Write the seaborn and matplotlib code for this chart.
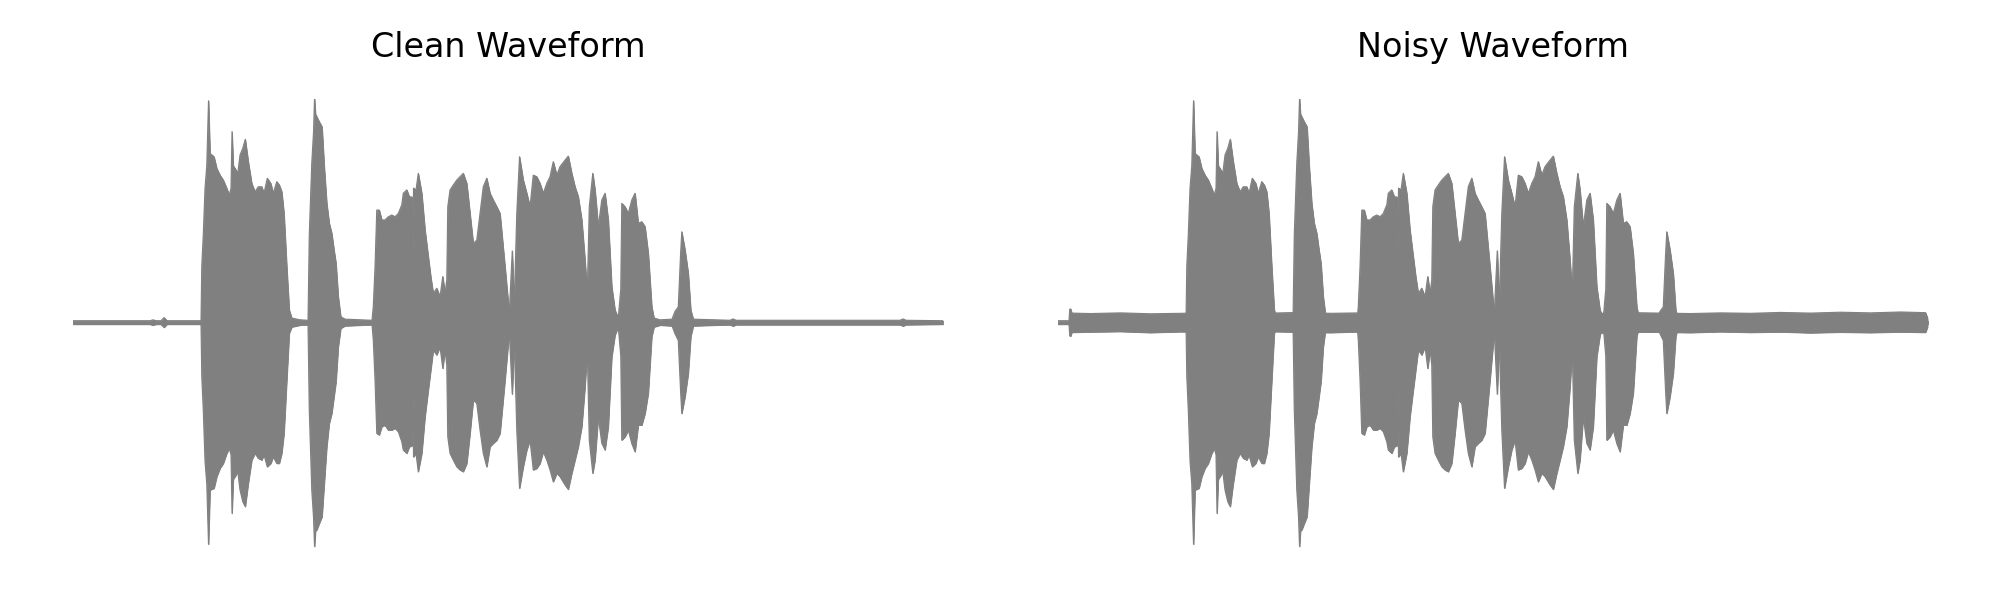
import numpy as np
import pandas as pd
import matplotlib
matplotlib.use("Agg")
import matplotlib.pyplot as plt
import seaborn as sns

# ---------------- data ----------------
# Clean waveform envelope: time (s), upper and lower amplitude
clean_time = [
    0.000, 0.308, 0.320, 0.332, 0.352, 0.364, 0.376, 0.508, 0.512, 0.515,
    0.521, 0.528, 0.535, 0.542, 0.548, 0.564, 0.575, 0.588, 0.601, 0.615,
    0.625, 0.632, 0.636, 0.641, 0.648, 0.659, 0.668, 0.679, 0.689, 0.701,
    0.715, 0.728, 0.741, 0.755, 0.764, 0.777, 0.791, 0.801, 0.815, 0.825,
    0.835, 0.844, 0.855, 0.865, 0.875, 0.908, 0.940, 0.945, 0.955, 0.962,
    0.966, 0.970, 0.975, 0.985, 0.996, 1.005, 1.015, 1.025, 1.035, 1.044,
    1.052, 1.061, 1.071, 1.088, 1.196, 1.201, 1.208, 1.215, 1.225, 1.235,
    1.248, 1.261, 1.275, 1.288, 1.301, 1.315, 1.321, 1.335, 1.345, 1.356,
    1.359, 1.362, 1.372, 1.381, 1.395, 1.408, 1.421, 1.431, 1.441, 1.455,
    1.468, 1.479, 1.488, 1.495, 1.499, 1.508, 1.521, 1.535, 1.548, 1.561,
    1.575, 1.588, 1.601, 1.615, 1.628, 1.641, 1.655, 1.668, 1.681, 1.695,
    1.708, 1.728, 1.745, 1.757, 1.765, 1.775, 1.786, 1.801, 1.815, 1.828,
    1.841, 1.855, 1.868, 1.881, 1.895, 1.908, 1.921, 1.935, 1.948, 1.968,
    1.981, 1.995, 2.008, 2.021, 2.035, 2.048, 2.057, 2.065, 2.079, 2.088,
    2.101, 2.115, 2.128, 2.141, 2.155, 2.168, 2.181, 2.191, 2.195, 2.208,
    2.221, 2.235, 2.248, 2.261, 2.275, 2.288, 2.301, 2.315, 2.324, 2.348,
    2.396, 2.408, 2.421, 2.430, 2.435, 2.448, 2.461, 2.471, 2.481, 2.628,
    2.640, 2.652, 3.308, 3.320, 3.332, 3.480,
]
clean_upper = [
    0.008, 0.008, 0.012, 0.008, 0.008, 0.022, 0.008, 0.008, 0.010, 0.250,
    0.390, 0.600, 0.700, 0.990, 0.755, 0.740, 0.688, 0.658, 0.636, 0.599,
    0.569, 0.600, 0.852, 0.700, 0.688, 0.666, 0.748, 0.778, 0.818, 0.718,
    0.621, 0.584, 0.606, 0.606, 0.577, 0.644, 0.621, 0.577, 0.629, 0.614,
    0.584, 0.487, 0.249, 0.056, 0.020, 0.012, 0.010, 0.391, 0.711, 0.850,
    1.000, 0.930, 0.919, 0.896, 0.874, 0.696, 0.532, 0.443, 0.398, 0.324,
    0.264, 0.115, 0.026, 0.015, 0.010, 0.071, 0.249, 0.502, 0.502, 0.458,
    0.458, 0.472, 0.480, 0.472, 0.487, 0.525, 0.577, 0.592, 0.562, 0.560,
    0.300, 0.600, 0.592, 0.666, 0.577, 0.413, 0.294, 0.205, 0.130, 0.153,
    0.115, 0.205, 0.130, 0.190, 0.517, 0.592, 0.614, 0.636, 0.651, 0.666,
    0.621, 0.487, 0.353, 0.368, 0.487, 0.606, 0.644, 0.577, 0.547, 0.517,
    0.487, 0.249, 0.041, 0.320, 0.080, 0.487, 0.740, 0.636, 0.577, 0.517,
    0.658, 0.651, 0.621, 0.577, 0.621, 0.651, 0.718, 0.658, 0.696, 0.725,
    0.743, 0.666, 0.606, 0.562, 0.458, 0.279, 0.130, 0.517, 0.666, 0.592,
    0.428, 0.547, 0.577, 0.458, 0.160, 0.056, 0.020, 0.150, 0.532, 0.517,
    0.487, 0.547, 0.577, 0.443, 0.450, 0.428, 0.309, 0.071, 0.020, 0.012,
    0.015, 0.050, 0.070, 0.300, 0.405, 0.324, 0.219, 0.056, 0.015, 0.010,
    0.016, 0.010, 0.010, 0.016, 0.010, 0.008,
]
clean_lower = [
    -0.008, -0.008, -0.012, -0.008, -0.008, -0.022, -0.008, -0.008, -0.010, -0.240,
    -0.390, -0.620, -0.720, -0.990, -0.748, -0.740, -0.688, -0.651, -0.629, -0.584,
    -0.562, -0.590, -0.852, -0.700, -0.688, -0.666, -0.748, -0.800, -0.822, -0.718,
    -0.614, -0.584, -0.606, -0.614, -0.591, -0.644, -0.629, -0.599, -0.629, -0.629,
    -0.584, -0.495, -0.257, -0.048, -0.020, -0.012, -0.010, -0.391, -0.748, -0.870,
    -1.000, -0.930, -0.926, -0.897, -0.867, -0.718, -0.555, -0.450, -0.406, -0.331,
    -0.264, -0.108, -0.026, -0.015, -0.010, -0.078, -0.257, -0.495, -0.502, -0.465,
    -0.458, -0.480, -0.480, -0.472, -0.487, -0.532, -0.569, -0.584, -0.555, -0.550,
    -0.300, -0.600, -0.584, -0.666, -0.584, -0.420, -0.301, -0.212, -0.123, -0.145,
    -0.108, -0.205, -0.123, -0.190, -0.510, -0.584, -0.614, -0.644, -0.658, -0.666,
    -0.629, -0.495, -0.346, -0.361, -0.480, -0.584, -0.644, -0.554, -0.539, -0.525,
    -0.495, -0.257, -0.041, -0.320, -0.080, -0.480, -0.740, -0.644, -0.569, -0.525,
    -0.658, -0.651, -0.629, -0.577, -0.614, -0.658, -0.711, -0.673, -0.688, -0.725,
    -0.745, -0.673, -0.614, -0.554, -0.465, -0.287, -0.123, -0.525, -0.673, -0.614,
    -0.420, -0.539, -0.569, -0.465, -0.153, -0.056, -0.020, -0.150, -0.525, -0.510,
    -0.480, -0.540, -0.577, -0.458, -0.458, -0.406, -0.316, -0.063, -0.020, -0.012,
    -0.015, -0.050, -0.080, -0.300, -0.406, -0.331, -0.227, -0.063, -0.015, -0.010,
    -0.016, -0.010, -0.010, -0.016, -0.010, -0.008,
]

# Added background noise band in the noisy recording: time (s), upper, lower
noise_time = [0.044, 0.047, 0.051, 0.055, 0.13, 0.25, 0.37, 0.49, 0.61, 0.73,
              0.85, 0.97, 1.09, 1.21, 1.33, 1.45, 1.57, 1.69, 1.81, 1.93,
              2.05, 2.17, 2.29, 2.41, 2.53, 2.65, 2.77, 2.89, 3.01, 3.13,
              3.25, 3.37, 3.47, 3.478]
noise_upper = [0.010, 0.060, 0.060, 0.042, 0.040, 0.043, 0.039, 0.041, 0.044, 0.040,
               0.042, 0.045, 0.041, 0.043, 0.040, 0.042, 0.044, 0.041, 0.043, 0.040,
               0.042, 0.041, 0.044, 0.042, 0.040, 0.043, 0.041, 0.045, 0.042, 0.046,
               0.043, 0.047, 0.044, 0.020]
noise_lower = [-0.010, -0.060, -0.060, -0.044, -0.042, -0.040, -0.045, -0.041, -0.043, -0.046,
               -0.040, -0.043, -0.045, -0.041, -0.044, -0.042, -0.040, -0.045, -0.042, -0.044,
               -0.041, -0.046, -0.042, -0.043, -0.045, -0.041, -0.044, -0.042, -0.046, -0.043,
               -0.045, -0.042, -0.044, -0.020]

titles = ["Clean Waveform", "Noisy Waveform"]
DURATION = 3.48

assert len(clean_time) == len(clean_upper) == len(clean_lower)
assert len(noise_time) == len(noise_upper) == len(noise_lower)

# ---------------- plotting ----------------
sns.set_theme(style="white")
plt.rcParams['font.family'] = ['DejaVu Sans']

GRAY = "#808080"
fig = plt.figure(figsize=(10, 3), dpi=200)
ax_h = 448 / 600
ax_b = 1 - 546.5 / 600
ax1 = fig.add_axes([73 / 2000, ax_b, 870 / 2000, ax_h])
ax2 = fig.add_axes([1058 / 2000, ax_b, 870 / 2000, ax_h])


def draw_env(ax, t, up, lo):
    df = pd.DataFrame({"time": t, "upper": up, "lower": lo})
    ax.fill_between(df["time"], df["lower"], df["upper"], color=GRAY,
                    edgecolor=GRAY, linewidth=0.3)
    sns.lineplot(data=df, x="time", y="upper", ax=ax, color=GRAY, lw=0.4,
                 estimator=None, sort=False)
    sns.lineplot(data=df, x="time", y="lower", ax=ax, color=GRAY, lw=0.4,
                 estimator=None, sort=False)


draw_env(ax1, clean_time, clean_upper, clean_lower)
draw_env(ax2, clean_time, clean_upper, clean_lower)
draw_env(ax2, noise_time, noise_upper, noise_lower)

for ax, title in zip([ax1, ax2], titles):
    ax.set_xlim(0, DURATION)
    ax.set_ylim(-1, 1)
    ax.set_axis_off()
    ax.set_title(title, fontsize=12, pad=15, color="black")

fig.savefig("out.png", dpi=200)
